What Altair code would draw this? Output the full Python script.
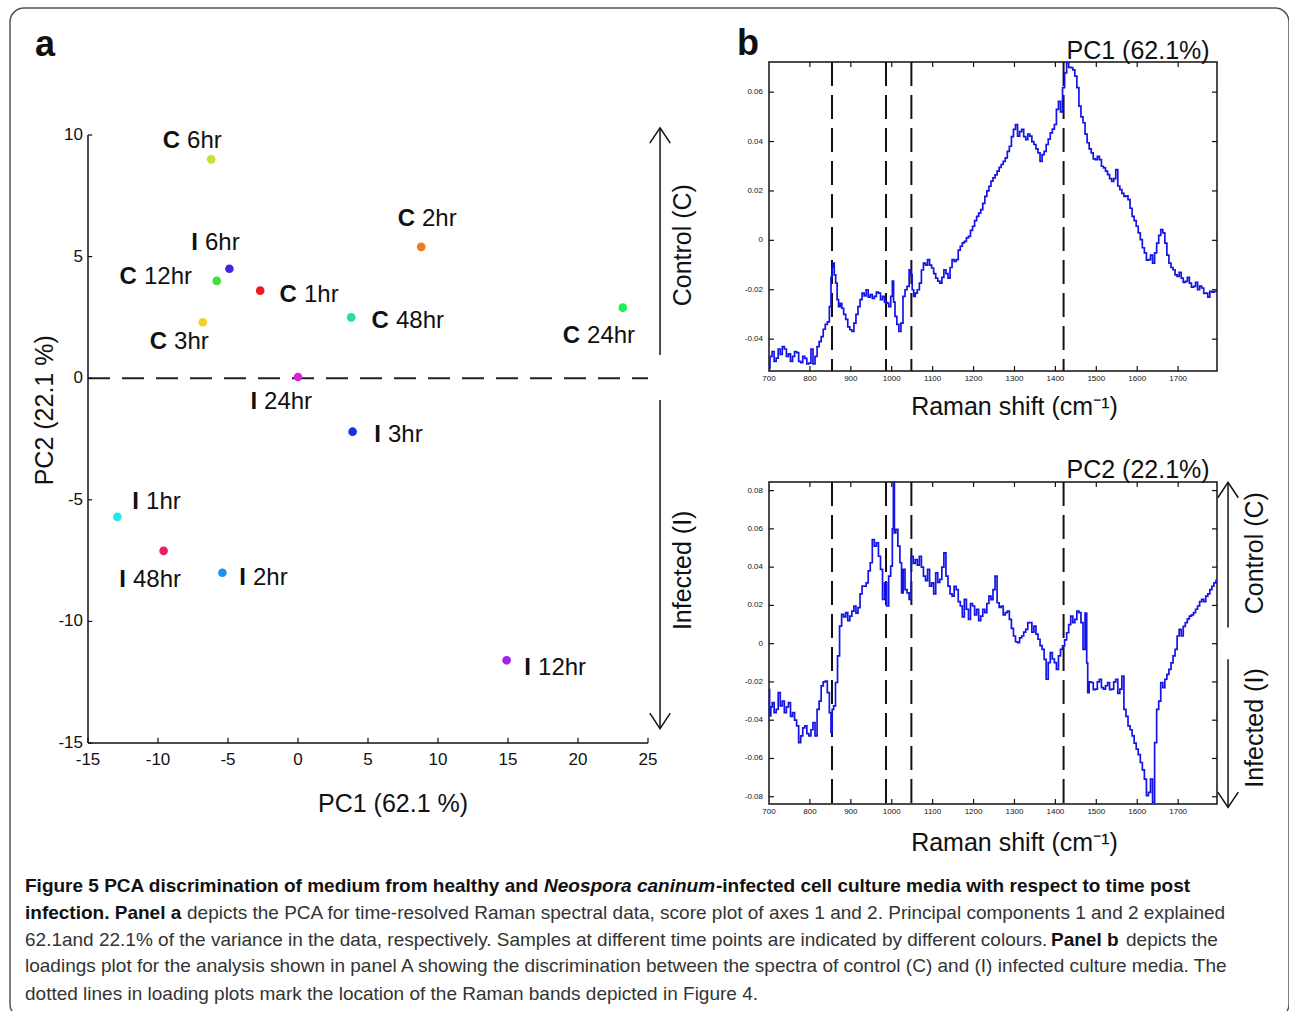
import altair as alt
import pandas as pd

# ---------------------------------------------------------------- data
# Panel a: PCA scores
sample_labels = ["C 6hr", "C 2hr", "I 6hr", "C 12hr", "C 1hr", "C 48hr", "C 3hr",
                 "C 24hr", "I 24hr", "I 3hr", "I 1hr", "I 48hr", "I 2hr", "I 12hr"]
pc1_scores = [-6.2, 8.8, -4.9, -5.8, -2.7, 3.8, -6.8, 23.2, 0.0, 3.9, -12.9, -9.6, -5.4, 14.9]
pc2_scores = [9.0, 5.4, 4.5, 4.0, 3.6, 2.5, 2.3, 2.9, 0.05, -2.2, -5.7, -7.1, -8.0, -11.6]
sample_colors = ["#c6e23a", "#f07a22", "#4a22e0", "#44e033", "#ee1c1c", "#22e0a0", "#f0d020",
                 "#22ee55", "#e020d0", "#1832e0", "#22e8e8", "#ea2060", "#2090e8", "#a020f0"]
# label anchor (between the bold prefix and the time) in score units
label_anchor_pc1 = [-8.21, 8.57, -6.93, -11.29, 0.14, 6.71, -9.14, 20.36, -2.71, 6.14, -11.14, -12.07, -3.5, 16.86]
label_anchor_pc2 = [9.75, 6.54, 5.56, 4.16, 3.42, 2.35, 1.48, 1.73, -0.99, -2.35, -5.10, -8.31, -8.23, -11.93]
score_x_ticks = [-15, -10, -5, 0, 5, 10, 15, 20, 25]
score_y_ticks = [-15, -10, -5, 0, 5, 10]

# Panel b: loadings
pc1_shift = [700, 705, 710, 715, 720, 725, 730, 735, 740, 745, 750, 755, 760, 765, 770, 775, 780, 785, 790, 795,
             800, 805, 810, 815, 820, 825, 830, 835, 840, 845, 850, 853, 856, 858, 861, 865, 868, 872, 876, 880,
             885, 890, 895, 900, 905, 910, 915, 920, 925, 930, 935, 940, 945, 950, 955, 960, 965, 970, 975, 980,
             985, 990, 995, 1000, 1003, 1006, 1010, 1015, 1020, 1025, 1030, 1035, 1040, 1045, 1048, 1052, 1055,
             1060, 1065, 1070, 1075, 1080, 1085, 1090, 1095, 1100, 1105, 1110, 1115, 1120, 1125, 1130, 1135,
             1140, 1145, 1150, 1155, 1160, 1165, 1170, 1175, 1180, 1185, 1190, 1195, 1200, 1205, 1210, 1215,
             1220, 1225, 1230, 1235, 1240, 1245, 1250, 1255, 1260, 1265, 1270, 1275, 1280, 1285, 1290, 1295,
             1300, 1305, 1310, 1315, 1320, 1325, 1330, 1335, 1340, 1345, 1350, 1355, 1360, 1365, 1370, 1375,
             1380, 1385, 1390, 1395, 1400, 1405, 1410, 1415, 1420, 1425, 1430, 1435, 1440, 1445, 1450, 1455,
             1460, 1465, 1470, 1475, 1480, 1485, 1490, 1495, 1500, 1505, 1510, 1515, 1520, 1525, 1530, 1535,
             1540, 1545, 1550, 1555, 1560, 1565, 1570, 1575, 1580, 1585, 1590, 1595, 1600, 1605, 1610, 1615,
             1620, 1625, 1630, 1635, 1640, 1645, 1650, 1655, 1660, 1665, 1670, 1675, 1680, 1685, 1690, 1695,
             1700, 1705, 1710, 1715, 1720, 1725, 1730, 1735, 1740, 1745, 1750, 1755, 1760, 1765, 1770, 1775,
             1780, 1785, 1790, 1795]
pc1_loading = [-0.0518, -0.0470, -0.0450, -0.0490, -0.0477, -0.0440, -0.0462, -0.0430, -0.0440, -0.0470,
               -0.0460, -0.0490, -0.0470, -0.0450, -0.0455, -0.0490, -0.0495, -0.0470, -0.0478, -0.0500,
               -0.0497, -0.0440, -0.0500, -0.0470, -0.0430, -0.0410, -0.0390, -0.0360, -0.0340, -0.0330,
               -0.0268, -0.0150, -0.0110, -0.0092, -0.0140, -0.0173, -0.0240, -0.0268, -0.0255, -0.0275,
               -0.0300, -0.0320, -0.0350, -0.0362, -0.0369, -0.0335, -0.0300, -0.0268, -0.0240, -0.0214,
               -0.0225, -0.0200, -0.0230, -0.0220, -0.0235, -0.0227, -0.0210, -0.0214, -0.0240, -0.0227,
               -0.0250, -0.0254, -0.0268, -0.0227, -0.0165, -0.0250, -0.0308, -0.0340, -0.0369, -0.0335,
               -0.0227, -0.0200, -0.0186, -0.0119, -0.0140, -0.0200, -0.0227, -0.0214, -0.0200, -0.0173,
               -0.0120, -0.0092, -0.0100, -0.0078, -0.0100, -0.0112, -0.0135, -0.0153, -0.0165, -0.0173,
               -0.0150, -0.0119, -0.0135, -0.0153, -0.0110, -0.0078, -0.0085, -0.0078, -0.0040, -0.0024,
               -0.0010, -0.0004, 0.0010, 0.0016, 0.0040, 0.0057, 0.0080, 0.0097, 0.0110, 0.0124,
               0.0150, 0.0178, 0.0200, 0.0219, 0.0240, 0.0253, 0.0265, 0.0280, 0.0295, 0.0307,
               0.0320, 0.0334, 0.0360, 0.0381, 0.0420, 0.0449, 0.0469, 0.0422, 0.0440, 0.0449,
               0.0420, 0.0408, 0.0430, 0.0422, 0.0400, 0.0388, 0.0370, 0.0354, 0.0320, 0.0347,
               0.0360, 0.0388, 0.0410, 0.0435, 0.0450, 0.0469, 0.0530, 0.0563, 0.0520, 0.0618,
               0.0678, 0.0719, 0.0700, 0.0699, 0.0690, 0.0665, 0.0618, 0.0543, 0.0500, 0.0476,
               0.0430, 0.0395, 0.0370, 0.0354, 0.0330, 0.0327, 0.0340, 0.0327, 0.0300, 0.0293,
               0.0280, 0.0266, 0.0250, 0.0239, 0.0250, 0.0286, 0.0220, 0.0205, 0.0190, 0.0178,
               0.0180, 0.0165, 0.0130, 0.0097, 0.0080, 0.0057, 0.0030, 0.0003, -0.0030, -0.0051,
               -0.0080, -0.0078, -0.0060, -0.0092, -0.0051, -0.0011, 0.0020, 0.0043, 0.0030, -0.0011,
               -0.0060, -0.0092, -0.0110, -0.0119, -0.0140, -0.0146, -0.0130, -0.0153, -0.0170, -0.0166,
               -0.0150, -0.0173, -0.0190, -0.0186, -0.0170, -0.0200, -0.0185, -0.0193, -0.0215, -0.0214,
               -0.0230, -0.0207, -0.0210, -0.0207, -0.0207]

pc2_shift = [700, 703, 706, 710, 715, 720, 725, 730, 735, 740, 745, 750, 755, 760, 765, 770, 775, 780, 785, 790,
             795, 800, 805, 810, 815, 820, 825, 830, 835, 840, 845, 850, 853, 856, 860, 865, 870, 875, 880, 885,
             890, 895, 900, 905, 910, 915, 920, 925, 930, 935, 940, 945, 950, 955, 960, 965, 970, 975, 980, 985,
             990, 995, 1000, 1003, 1005, 1008, 1012, 1018, 1022, 1026, 1030, 1035, 1040, 1045, 1050, 1055, 1060,
             1065, 1070, 1075, 1080, 1085, 1090, 1095, 1100, 1105, 1110, 1115, 1120, 1125, 1130, 1135, 1140,
             1145, 1150, 1155, 1160, 1165, 1170, 1175, 1180, 1185, 1190, 1195, 1200, 1205, 1210, 1215, 1220,
             1225, 1230, 1235, 1240, 1245, 1250, 1255, 1260, 1265, 1270, 1275, 1280, 1285, 1290, 1295, 1300,
             1305, 1310, 1315, 1320, 1325, 1330, 1335, 1340, 1345, 1350, 1355, 1360, 1365, 1370, 1375, 1380,
             1385, 1390, 1395, 1400, 1405, 1410, 1415, 1420, 1425, 1430, 1435, 1440, 1445, 1450, 1455, 1460,
             1465, 1470, 1475, 1478, 1480, 1485, 1490, 1495, 1500, 1505, 1510, 1515, 1520, 1525, 1530, 1535,
             1540, 1545, 1550, 1555, 1560, 1565, 1570, 1575, 1580, 1585, 1590, 1595, 1600, 1605, 1610, 1615,
             1620, 1625, 1630, 1635, 1640, 1645, 1650, 1655, 1660, 1665, 1670, 1675, 1680, 1685, 1690, 1695,
             1700, 1705, 1710, 1715, 1720, 1725, 1730, 1735, 1740, 1745, 1750, 1755, 1760, 1765, 1770, 1775,
             1780, 1785, 1790, 1795]
pc2_loading = [-0.0240, -0.0377, -0.0330, -0.0308, -0.0360, -0.0343, -0.0256, -0.0325, -0.0300, -0.0360,
               -0.0330, -0.0308, -0.0380, -0.0360, -0.0400, -0.0430, -0.0517, -0.0482, -0.0440, -0.0430,
               -0.0470, -0.0482, -0.0450, -0.0412, -0.0482, -0.0343, -0.0300, -0.0221, -0.0200, -0.0195,
               -0.0256, -0.0360, -0.0464, -0.0343, -0.0325, -0.0203, -0.0064, 0.0092, 0.0153, 0.0140,
               0.0162, 0.0120, 0.0144, 0.0170, 0.0197, 0.0160, 0.0188, 0.0260, 0.0301, 0.0300,
               0.0318, 0.0380, 0.0423, 0.0544, 0.0510, 0.0527, 0.0457, 0.0388, 0.0231, 0.0318,
               0.0197, 0.0353, 0.0405, 0.0600, 0.0845, 0.0579, 0.0597, 0.0510, 0.0423, 0.0266,
               0.0388, 0.0283, 0.0266, 0.0231, 0.0457, 0.0420, 0.0440, 0.0410, 0.0457, 0.0400,
               0.0353, 0.0330, 0.0388, 0.0300, 0.0318, 0.0260, 0.0370, 0.0320, 0.0336, 0.0400,
               0.0475, 0.0353, 0.0301, 0.0260, 0.0249, 0.0300, 0.0283, 0.0220, 0.0197, 0.0140,
               0.0231, 0.0180, 0.0127, 0.0210, 0.0197, 0.0150, 0.0179, 0.0120, 0.0144, 0.0180,
               0.0162, 0.0210, 0.0249, 0.0230, 0.0283, 0.0353, 0.0214, 0.0190, 0.0197, 0.0150,
               0.0162, 0.0170, 0.0127, 0.0080, 0.0040, 0.0010, 0.0005, 0.0030, 0.0040, 0.0060,
               0.0075, 0.0110, 0.0110, 0.0060, 0.0092, 0.0050, 0.0023, -0.0010, -0.0030, -0.0082,
               -0.0186, -0.0099, -0.0047, -0.0080, -0.0099, -0.0134, -0.0064, -0.0030, -0.0012, 0.0020,
               0.0057, 0.0100, 0.0144, 0.0110, 0.0127, 0.0170, 0.0162, 0.0110, -0.0030, 0.0160,
               -0.0100, -0.0256, -0.0200, -0.0203, -0.0240, -0.0238, -0.0200, -0.0186, -0.0230, -0.0238,
               -0.0220, -0.0203, -0.0240, -0.0238, -0.0200, -0.0186, -0.0260, -0.0238, -0.0169, -0.0343,
               -0.0380, -0.0430, -0.0450, -0.0482, -0.0520, -0.0551, -0.0580, -0.0621, -0.0660, -0.0708,
               -0.0795, -0.0777, -0.0708, -0.0830, -0.0517, -0.0343, -0.0300, -0.0203, -0.0230, -0.0186,
               -0.0160, -0.0134, -0.0100, -0.0064, -0.0030, 0.0040, 0.0075, 0.0040, 0.0090, 0.0110,
               0.0130, 0.0144, 0.0150, 0.0162, 0.0180, 0.0197, 0.0220, 0.0231, 0.0220, 0.0249,
               0.0260, 0.0283, 0.0300, 0.0318, 0.0330]

raman_bands = [854, 986, 1048, 1420]
shift_ticks = [700, 800, 900, 1000, 1100, 1200, 1300, 1400, 1500, 1600, 1700]
pc1_load_ticks = [-0.04, -0.02, 0.0, 0.02, 0.04, 0.06]
pc1_load_tick_labels = ["-0.04", "-0.02", "0", "0.02", "0.04", "0.06"]
pc2_load_ticks = [-0.08, -0.06, -0.04, -0.02, 0.0, 0.02, 0.04, 0.06, 0.08]
pc2_load_tick_labels = ["-0.08", "-0.06", "-0.04", "-0.02", "0", "0.02", "0.04", "0.06", "0.08"]

# caption segments: (line, start, text, style)
caption_segments = [
    (0, 25, "Figure 5 PCA discrimination of medium from healthy and", "bold"),
    (0, 544, "Neospora caninum", "italic"),
    (0, 716, "-infected cell culture media with respect to time post", "bold"),
    (1, 25, "infection. Panel a", "bold"),
    (1, 187, "depicts the PCA for time-resolved Raman spectral data, score plot of axes 1 and 2. Principal components 1 and 2 explained", "normal"),
    (2, 25, "62.1and 22.1% of the variance in the data, respectively. Samples at different time points are indicated by different colours.", "normal"),
    (2, 1051, "Panel b", "bold"),
    (2, 1126, "depicts the", "normal"),
    (3, 25, "loadings plot for the analysis shown in panel A showing the discrimination between the spectra of control (C) and (I) infected culture media. The", "normal"),
    (4, 25, "dotted lines in loading plots mark the location of the Raman bands depicted in Figure 4.", "normal"),
]
caption_line_y = [886, 913, 940, 966, 994]

# ---------------------------------------------------------------- layout / style
OX, OY = 10, 8
FONT = "Liberation Sans, Arial, sans-serif"
INK = "#111111"


def sx(scale, field="x"):
    return alt.X(field, type="quantitative", scale=scale, axis=None)


def sy(scale, field="y"):
    return alt.Y(field, type="quantitative", scale=scale, axis=None)


def text_layer(df, xs, ys, **kw):
    base = dict(font=FONT, color=INK, baseline="middle", align="center")
    base.update(kw)
    return alt.Chart(df).mark_text(**base).encode(x=sx(xs), y=sy(ys), text="t:N")


UP = "M -1 0.75 L 0 -0.75 L 1 0.75"
DOWN = "M -1 -0.75 L 0 0.75 L 1 -0.75"

# ---------------------------------------------------------------- panel a
XA = alt.Scale(domain=[-15, 25], range=[88 - OX, 648 - OX], nice=False, zero=False)
YA = alt.Scale(domain=[-15, 10], range=[743 - OY, 135 - OY], nice=False, zero=False)

scores = pd.DataFrame({
    "label": sample_labels, "x": pc1_scores, "y": pc2_scores, "color": sample_colors,
    "lx": label_anchor_pc1, "ly": label_anchor_pc2,
    "prefix": [s.split(" ")[0] for s in sample_labels],
    "suffix": [s.split(" ")[1] for s in sample_labels],
})

pts = alt.Chart(scores).mark_circle(size=75, opacity=1).encode(
    x=sx(XA), y=sy(YA), color=alt.Color("color:N", scale=None))
lab_pre = alt.Chart(scores).mark_text(font=FONT, fontSize=24, fontWeight="bold", align="right",
                                      baseline="middle", dx=-3, color=INK).encode(
    x=sx(XA, "lx"), y=sy(YA, "ly"), text="prefix:N")
lab_suf = alt.Chart(scores).mark_text(font=FONT, fontSize=24, align="left",
                                      baseline="middle", dx=4, color=INK).encode(
    x=sx(XA, "lx"), y=sy(YA, "ly"), text="suffix:N")

axes_a = alt.Chart(pd.DataFrame({"x": [-15, -15], "x2": [-15, 25], "y": [-15, -15], "y2": [10, -15]})).mark_rule(
    color=INK, strokeWidth=1.5).encode(x=sx(XA), x2="x2:Q", y=sy(YA), y2="y2:Q")
ytick_a = alt.Chart(pd.DataFrame({"y": score_y_ticks, "x": -15, "x2": -14.7})).mark_rule(
    color=INK, strokeWidth=1.2).encode(x=sx(XA), x2="x2:Q", y=sy(YA))
xtick_a = alt.Chart(pd.DataFrame({"x": score_x_ticks, "y": -15, "y2": -14.78})).mark_rule(
    color=INK, strokeWidth=1.2).encode(x=sx(XA), y=sy(YA), y2="y2:Q")
ylab_a = text_layer(pd.DataFrame({"y": score_y_ticks, "x": -15, "t": [str(v) for v in score_y_ticks]}),
                    XA, YA, align="right", dx=-5, fontSize=17)
xlab_a = text_layer(pd.DataFrame({"x": score_x_ticks, "y": -15, "t": [str(v) for v in score_x_ticks]}),
                    XA, YA, baseline="top", dy=9, fontSize=17)
zero_a = alt.Chart(pd.DataFrame({"x": [-15], "x2": [25], "y": [0]})).mark_rule(
    color="#222222", strokeWidth=2, strokeDash=[22, 12]).encode(x=sx(XA), x2="x2:Q", y=sy(YA))
arrow_a = alt.Chart(pd.DataFrame({"x": [25.86, 25.86], "y": [10.29, -0.9], "y2": [0.95, -14.40]})).mark_rule(
    color=INK, strokeWidth=1.5).encode(x=sx(XA), y=sy(YA), y2="y2:Q")
head_up_a = alt.Chart(pd.DataFrame({"x": [25.86], "y": [9.98]})).mark_point(
    shape=UP, size=420, filled=False, color=INK, strokeWidth=1.5, opacity=1).encode(x=sx(XA), y=sy(YA))
head_dn_a = alt.Chart(pd.DataFrame({"x": [25.86], "y": [-14.09]})).mark_point(
    shape=DOWN, size=420, filled=False, color=INK, strokeWidth=1.5, opacity=1).encode(x=sx(XA), y=sy(YA))
side_a = text_layer(pd.DataFrame({"x": [27.5, 27.5], "y": [5.47, -7.9], "t": ["Control (C)", "Infected (I)"]}),
                    XA, YA, angle=270, fontSize=25)
titles_a = text_layer(pd.DataFrame({"x": [6.79], "y": [-17.49], "t": ["PC1 (62.1 %)"]}), XA, YA, fontSize=25)
ytitle_a = text_layer(pd.DataFrame({"x": [-18.07], "y": [-1.32], "t": ["PC2 (22.1 %)"]}), XA, YA,
                      fontSize=25, angle=270)
letter_a = text_layer(pd.DataFrame({"x": [-18.07], "y": [13.7], "t": ["a"]}), XA, YA,
                      fontSize=36, fontWeight="bold")

panel_a = alt.layer(zero_a, axes_a, ytick_a, xtick_a, ylab_a, xlab_a, arrow_a, head_up_a, head_dn_a,
                    side_a, titles_a, ytitle_a, letter_a, pts, lab_pre, lab_suf)


# ---------------------------------------------------------------- panel b
def loading_panel(shift, loading, yscale, ymin, ymax, ticks, tick_labels, tlen_y, title, title_y,
                  xlabel_y, extra=None):
    xs = alt.Scale(domain=[700, 1795], range=[769 - OX, 1217 - OX], nice=False, zero=False)
    tlen_x = 12.2
    frame = alt.Chart(pd.DataFrame({"x": [700], "x2": [1795], "y": [ymin], "y2": [ymax]})).mark_rect(
        filled=False, stroke=INK, strokeWidth=1.5).encode(x=sx(xs), x2="x2:Q", y=sy(yscale), y2="y2:Q")
    inner = shift_ticks[1:]
    xt = pd.DataFrame({"x": inner * 2, "y": [ymin] * len(inner) + [ymax] * len(inner),
                       "y2": [ymin + tlen_y] * len(inner) + [ymax - tlen_y] * len(inner)})
    xtick = alt.Chart(xt).mark_rule(color=INK, strokeWidth=1.2).encode(x=sx(xs), y=sy(yscale), y2="y2:Q")
    yt = pd.DataFrame({"y": ticks * 2, "x": [700] * len(ticks) + [1795] * len(ticks),
                       "x2": [700 + tlen_x] * len(ticks) + [1795 - tlen_x] * len(ticks)})
    ytick = alt.Chart(yt).mark_rule(color=INK, strokeWidth=1.2).encode(x=sx(xs), x2="x2:Q", y=sy(yscale))
    xl = text_layer(pd.DataFrame({"x": shift_ticks, "y": ymin, "t": [str(v) for v in shift_ticks]}),
                    xs, yscale, baseline="top", dy=4, fontSize=8)
    yl = text_layer(pd.DataFrame({"x": 700, "y": ticks, "t": tick_labels}),
                    xs, yscale, align="right", dx=-6, fontSize=8)
    bands = alt.Chart(pd.DataFrame({"x": raman_bands, "y": ymax, "y2": ymin})).mark_rule(
        color=INK, strokeWidth=2, strokeDash=[24, 9]).encode(x=sx(xs), y=sy(yscale), y2="y2:Q")
    line = alt.Chart(pd.DataFrame({"x": shift, "y": loading})).mark_line(
        interpolate="step", color="#1414e6", strokeWidth=1.7).encode(x=sx(xs), y=sy(yscale))
    ttl = text_layer(pd.DataFrame({"x": [1602], "y": [title_y], "t": [title]}), xs, yscale,
                     baseline="alphabetic", fontSize=25)
    xlab = text_layer(pd.DataFrame({"x": [1300], "y": [xlabel_y], "t": ["Raman shift (cm\u207b\u00b9)"]}),
                      xs, yscale, fontSize=25)
    layers = [frame, bands, line, xtick, ytick, xl, yl, ttl, xlab]
    if extra is not None:
        layers += extra(xs)
    return alt.layer(*layers)


YB1 = alt.Scale(domain=[-0.0529, 0.0722], range=[371 - OY, 62 - OY], nice=False, zero=False)
YB2 = alt.Scale(domain=[-0.0838, 0.0845], range=[804 - OY, 482 - OY], nice=False, zero=False)


def extra_b1(xs):
    return [text_layer(pd.DataFrame({"x": [648.7], "y": [0.0795], "t": ["b"]}), xs, YB1,
                       fontSize=36, fontWeight="bold")]


def extra_b2(xs):
    arr = alt.Chart(pd.DataFrame({"x": [1822, 1822], "y": [0.0840, -0.0082], "y2": [0.0085, -0.0855]})).mark_rule(
        color=INK, strokeWidth=1.5).encode(x=sx(xs), y=sy(YB2), y2="y2:Q")
    up = alt.Chart(pd.DataFrame({"x": [1822], "y": [0.0803]})).mark_point(
        shape=UP, size=420, filled=False, color=INK, strokeWidth=1.5, opacity=1).encode(x=sx(xs), y=sy(YB2))
    dn = alt.Chart(pd.DataFrame({"x": [1822], "y": [-0.0816]})).mark_point(
        shape=DOWN, size=420, filled=False, color=INK, strokeWidth=1.5, opacity=1).encode(x=sx(xs), y=sy(YB2))
    side = text_layer(pd.DataFrame({"x": [1888, 1888], "y": [0.0473, -0.0441],
                                    "t": ["Control (C)", "Infected (I)"]}), xs, YB2, angle=270, fontSize=25)
    return [arr, up, dn, side]


panel_b1 = loading_panel(pc1_shift, pc1_loading, YB1, -0.0529, 0.0722, pc1_load_ticks, pc1_load_tick_labels,
                         0.002, "PC1 (62.1%)", 0.0734, -0.0675, extra_b1)
panel_b2 = loading_panel(pc2_shift, pc2_loading, YB2, -0.0838, 0.0845, pc2_load_ticks, pc2_load_tick_labels,
                         0.0026, "PC2 (22.1%)", 0.0866, -0.1042, extra_b2)

# ---------------------------------------------------------------- caption
cap = pd.DataFrame({
    "x": [s[1] - OX for s in caption_segments],
    "y": [caption_line_y[s[0]] - OY for s in caption_segments],
    "t": [s[2] for s in caption_segments],
    "style": [s[3] for s in caption_segments],
})


def cap_layer(style, **kw):
    return alt.Chart(cap[cap["style"] == style]).mark_text(
        font=FONT, fontSize=19, align="left", baseline="middle", **kw).encode(
        x=alt.X("x:Q", scale=None, axis=None), y=alt.Y("y:Q", scale=None, axis=None), text="t:N")


caption = alt.layer(
    cap_layer("bold", fontWeight="bold", color="#111111"),
    cap_layer("italic", fontWeight="bold", fontStyle="italic", color="#111111"),
    cap_layer("normal", color="#333333"),
)

chart = alt.layer(panel_a, panel_b1, panel_b2, caption).resolve_scale(
    x="independent", y="independent"
).properties(
    width=1279, height=1010,
    autosize=alt.AutoSizeParams(type="none"),
    padding={"left": OX, "top": OY, "right": 0, "bottom": 0},
    background="white",
).configure_view(stroke="#555555", strokeWidth=1.5, cornerRadius=14)

chart.save("out.html", embed_options={"renderer": "svg", "actions": False})
